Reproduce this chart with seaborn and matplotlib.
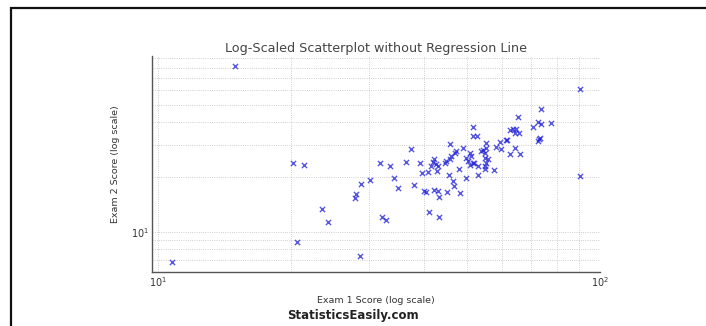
import matplotlib
matplotlib.use("Agg")
import matplotlib.pyplot as plt
from matplotlib.patches import Rectangle
import seaborn as sns
import pandas as pd

# Exam scores (two exams per student)
exam1 = [10.8, 15.0, 20.2, 21.4, 20.7, 23.6, 24.3, 28.0, 28.1, 28.7,
         28.9, 30.2, 31.8, 33.5, 32.1, 32.8, 34.2, 35.0, 36.5, 37.5,
         38.0, 39.3, 39.7, 40.9, 40.0, 40.5, 41.1, 43.2, 42.2, 43.0,
         43.2, 42.9, 45.2, 48.4, 45.6, 48.0, 46.6, 46.8, 49.9, 53.0,
         54.9, 57.6, 90.1, 90.1, 73.8, 65.2, 72.5, 73.8, 70.6, 77.7,
         51.8, 62.6, 63.6, 64.8, 64.2, 65.7, 51.7, 52.7, 73.2, 72.5,
         72.9, 59.4, 61.3, 61.7, 55.2, 45.8, 58.4, 59.9, 64.2, 49.0,
         54.4, 54.0, 54.9, 55.4, 62.6, 66.2, 50.8, 51.2, 50.3, 51.7,
         52.1, 50.8, 54.9, 55.4, 55.9, 54.9, 53.0, 47.4, 47.0, 46.2,
         45.8, 45.0, 44.6, 42.3, 41.9, 42.7, 41.6, 43.0, 49.9]
exam2 = [6.81, 81.8, 23.9, 23.3, 8.82, 13.4, 11.3, 15.4, 16.2, 7.40,
         18.4, 19.3, 23.9, 22.9, 12.1, 11.6, 19.8, 17.5, 24.2, 28.6,
         18.1, 23.9, 21.1, 21.3, 16.7, 16.6, 12.9, 12.1, 17.0, 16.7,
         15.5, 21.5, 16.5, 16.3, 20.6, 22.2, 19.0, 17.8, 19.8, 20.6,
         22.1, 21.8, 20.2, 61.0, 47.3, 42.7, 40.4, 39.3, 37.9, 39.9,
         37.5, 36.4, 36.9, 36.7, 34.9, 34.9, 33.5, 33.5, 33.0, 31.4,
         32.4, 31.2, 32.1, 32.1, 30.8, 30.5, 29.1, 28.6, 28.9, 28.9,
         28.3, 27.7, 27.2, 28.9, 26.9, 26.8, 27.2, 26.0, 24.4, 23.9,
         23.9, 23.4, 25.5, 23.9, 25.0, 22.9, 23.1, 27.7, 27.2, 26.0,
         25.0, 24.4, 23.9, 25.0, 24.1, 23.6, 23.1, 22.9, 25.5]

df = pd.DataFrame({"Exam 1": exam1, "Exam 2": exam2})

sns.set_style("white")
plt.rcParams["font.family"] = ["DejaVu Sans"]

fig = plt.figure(figsize=(7.06, 3.26), dpi=100)
ax = fig.add_axes([0.2153, 0.1656, 0.6346, 0.6626])

sns.scatterplot(data=df, x="Exam 1", y="Exam 2", marker="x", color="#1f1fd6",
                alpha=0.75, s=14, linewidth=1.0, ax=ax, legend=False)
ax.set_xscale("log")
ax.set_yscale("log")

ax.grid(True, which="both", linestyle=":", color="#c0c0c0", linewidth=0.6)
ax.set_axisbelow(True)
for side in ("top", "right"):
    ax.spines[side].set_visible(False)
for side in ("left", "bottom"):
    ax.spines[side].set_color("#555555")
    ax.spines[side].set_linewidth(1.0)

ax.tick_params(which="major", direction="in", length=4, width=0.8,
               color="#555555", labelsize=7, labelcolor="#333333", pad=2)
ax.tick_params(which="minor", direction="in", length=2, width=0.6,
               color="#555555")

ax.set_title("Log-Scaled Scatterplot without Regression Line",
             fontsize=9.2, color="#444444", pad=3)
ax.set_xlabel("Exam 1 Score (log scale)", fontsize=6.8, color="#333333", labelpad=5)
ax.set_ylabel("Exam 2 Score (log scale)", fontsize=6.8, color="#333333", labelpad=8)

fig.text(0.5, 1 - 315 / 326, "StatisticsEasily.com", ha="center", va="center",
         fontsize=8.5, fontweight="bold", color="#222222")

fig.patches.append(Rectangle((10.5 / 706, -0.1), 1.2, (1 - 7.5 / 326) + 0.1,
                             transform=fig.transFigure, fill=False,
                             edgecolor="#111111", linewidth=1.6, clip_on=False))

fig.savefig("out.png", dpi=100)
